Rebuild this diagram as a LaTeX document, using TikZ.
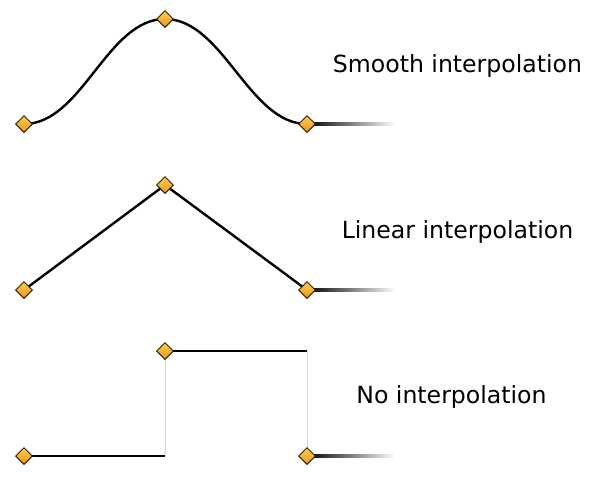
\documentclass[tikz,border=0pt]{standalone}
\usepackage{fontspec}
\setmainfont{DejaVu Sans}
\usetikzlibrary{shapes.geometric,calc}
\definecolor{dtop}{RGB}{252,205,80}
\definecolor{dbot}{RGB}{236,150,30}
\definecolor{dline}{RGB}{50,35,10}
\definecolor{glin}{RGB}{215,215,215}
\tikzset{
  dia/.style={diamond,draw=dline,line width=1pt,top color=dtop,bottom color=dbot,minimum size=17pt,inner sep=0pt},
  curveline/.style={line width=2.4pt,black},
  guide/.style={line width=1pt,glin},
  lbl/.style={font=\fontsize{23.6}{28}\selectfont,text=black,inner sep=0pt},
  tail/.style={left color=black,middle color=black!75,right color=white,draw=none}
}
\begin{document}
\begin{tikzpicture}[x=1pt,y=-1pt]
\useasboundingbox[fill=white] (0,0) rectangle (600,483);
% coordinates
\coordinate (s1) at (24,124);
\coordinate (s2) at (165,19);
\coordinate (s3) at (307,124);
\coordinate (s3t) at (395,124);
\coordinate (l1) at (24,290);
\coordinate (l2) at (165,185);
\coordinate (l3) at (307,290);
\coordinate (l3t) at (395,290);
\coordinate (n1) at (24,456);
\coordinate (n1e) at (165,456);
\coordinate (n2) at (165,351);
\coordinate (n2e) at (307,351);
\coordinate (n3) at (307,456);
\coordinate (n3t) at (395,456);
% smooth
\draw[curveline] (s1) .. controls ($(s1)+(58,0)$) and ($(s2)+(-58,0)$) .. (s2)
                 .. controls ($(s2)+(58,0)$) and ($(s3)+(-58,0)$) .. (s3);
\shade[tail] ($(s3)+(0,-1.2)$) rectangle ($(s3t)+(0,1.2)$);
% linear
\draw[curveline] (l1) -- (l2) -- (l3);
\shade[tail] ($(l3)+(0,-1.2)$) rectangle ($(l3t)+(0,1.2)$);
% none
\draw[guide] (n1e) -- (n2);
\draw[guide] (n2e) -- (n3);
\draw[curveline] (n1) -- (n1e);
\draw[curveline] (n2) -- (n2e);
\shade[tail] ($(n3)+(0,-1.2)$) rectangle ($(n3t)+(0,1.2)$);
% diamonds
\foreach \p in {s1,s2,s3,l1,l2,l3,n1,n2,n3}{
  \node[dia] (d\p) at (\p) {};
}
% labels
\node[lbl] (ts) at (457.5,66) {Smooth interpolation};
\node[lbl] (tl) at (457.5,232) {Linear interpolation};
\node[lbl] (tn) at (451.5,397) {No interpolation};
\end{tikzpicture}
\end{document}
